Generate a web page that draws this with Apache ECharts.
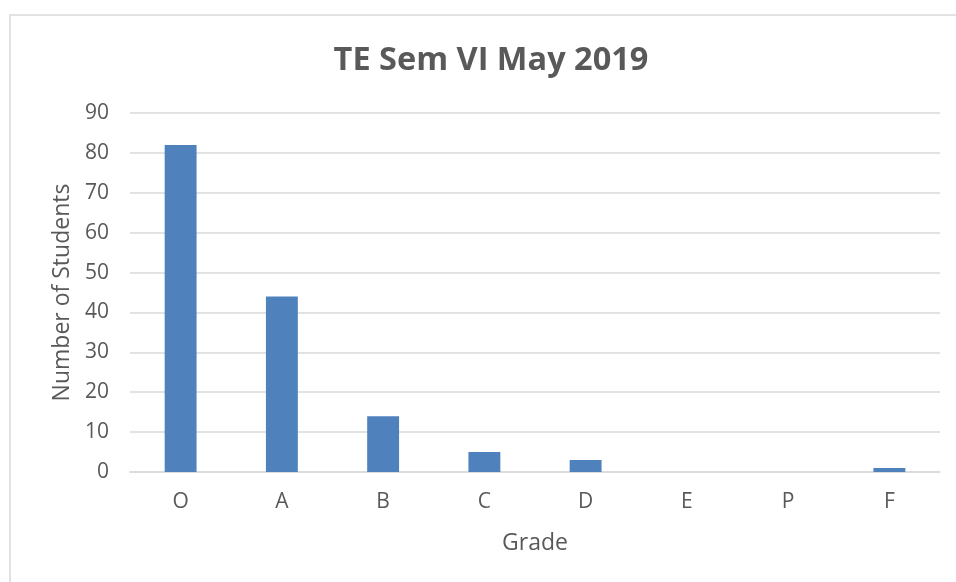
<!DOCTYPE html>
<html>
<head>
<meta charset="utf-8">
<script src="https://cdn.jsdelivr.net/npm/echarts@6/dist/echarts.min.js"></script>
<style>
html,body{margin:0;padding:0;background:#fff;}
#chart{width:956px;height:582px;}
</style>
</head>
<body>
<div id="chart"></div>
<script>
const categories = ['O', 'A', 'B', 'C', 'D', 'E', 'P', 'F'];
const students = [82, 44, 14, 5, 3, 0, 0, 1];
const titleText = 'TE Sem VI May 2019';
const xName = 'Grade';
const yName = 'Number of Students';

const font = '"Open Sans", "Liberation Sans", sans-serif';
const chart = echarts.init(document.getElementById('chart'));
chart.setOption({
  animation: false,
  backgroundColor: '#fff',
  graphic: [{
    type: 'rect',
    shape: { x: 10, y: 15, width: 1200, height: 1200 },
    style: { fill: 'none', stroke: '#d9d9d9', lineWidth: 1.5 },
    silent: true
  }],
  title: {
    text: titleText,
    left: 486,
    textAlign: 'center',
    top: 39,
    textStyle: { fontFamily: font, fontSize: 32.5, fontWeight: 'bold', color: '#595959' }
  },
  grid: { left: 130, right: 16, top: 113, bottom: 110 },
  xAxis: {
    type: 'category',
    data: categories,
    name: xName,
    nameLocation: 'middle',
    nameGap: 60,
    nameTextStyle: { fontFamily: font, fontSize: 23, color: '#595959' },
    axisLine: { lineStyle: { color: '#d9d9d9', width: 1.5 } },
    axisTick: { show: false },
    axisLabel: { margin: 20, fontFamily: font, fontSize: 21, color: '#595959' }
  },
  yAxis: {
    type: 'value',
    min: 0, max: 90, interval: 10,
    name: yName,
    nameLocation: 'middle',
    nameGap: 55,
    nameTextStyle: { fontFamily: font, fontSize: 23, color: '#595959' },
    axisLine: { show: false },
    axisTick: { show: false },
    splitLine: { lineStyle: { color: '#d9d9d9', width: 1.5 } },
    axisLabel: { margin: 21, fontFamily: font, fontSize: 21, color: '#595959' }
  },
  series: [{
    type: 'bar',
    data: students,
    barWidth: '31.5%',
    itemStyle: { color: '#4f81bd' }
  }]
});
</script>
</body>
</html>
